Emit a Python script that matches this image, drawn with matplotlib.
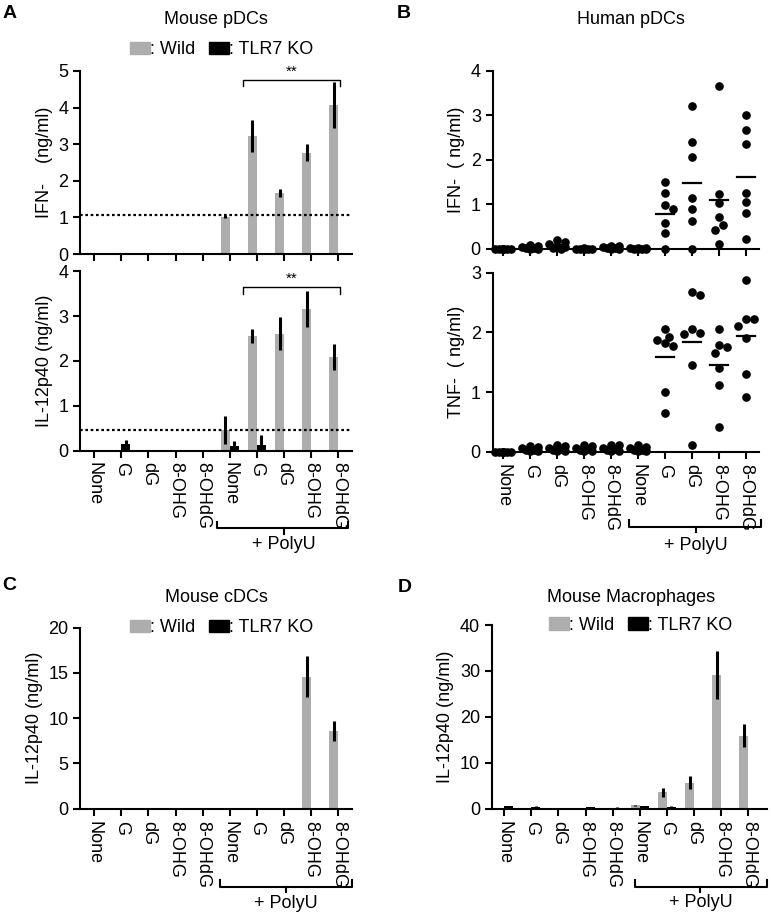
import matplotlib
matplotlib.use("Agg")
from matplotlib import pyplot as plt
from matplotlib.patches import Patch
import numpy as np

plt.rcParams['font.family'] = ['Liberation Sans', 'DejaVu Sans']
plt.rcParams['font.size'] = 13

# ---- data ----
categories = ["None", "G", "dG", "8-OHG", "8-OHdG", "None", "G", "dG", "8-OHG", "8-OHdG"]

# A: mouse pDCs, IFN-a (ng/ml)
a_ifn_wild = [0, 0, 0, 0, 0, 1.02, 3.22, 1.67, 2.77, 4.07]
a_ifn_wild_err = [0, 0, 0, 0, 0, 0.04, 0.44, 0.1, 0.23, 0.62]
a_ifn_ko = [0, 0, 0, 0, 0, 0, 0, 0, 0, 0]
a_ifn_ko_err = [0, 0, 0, 0, 0, 0, 0, 0, 0, 0]
a_ifn_cutoff = 1.07

# A: mouse pDCs, IL-12p40 (ng/ml)
a_il12_wild = [0, 0, 0, 0, 0, 0.46, 2.55, 2.61, 3.16, 2.08]
a_il12_wild_err = [0, 0, 0, 0, 0, 0.31, 0.16, 0.37, 0.4, 0.29]
a_il12_ko = [0, 0.15, 0, 0, 0, 0.1, 0.12, 0, 0, 0]
a_il12_ko_err = [0, 0.08, 0, 0, 0, 0.12, 0.23, 0, 0, 0]
a_il12_cutoff = 0.46

# B: human pDCs, individual donors
b_ifn = [
    [0, 0, 0, 0, 0, 0, 0],
    [0.09, 0.06, 0.04, 0.02, 0.01, 0.0, 0.0],
    [0.2, 0.14, 0.1, 0.06, 0.03, 0.01, 0.0],
    [0.01, 0, 0, 0, 0, 0, 0],
    [0.06, 0.05, 0.03, 0.02, 0.01, 0.0, 0.0],
    [0.02, 0.01, 0.01, 0.0, 0.0, 0.0, 0.0],
    [1.49, 1.25, 0.99, 0.89, 0.57, 0.35, 0.0],
    [3.21, 2.41, 2.06, 1.13, 0.89, 0.62, 0.0],
    [3.66, 1.23, 1.02, 0.72, 0.53, 0.42, 0.1],
    [3.02, 2.67, 2.35, 1.26, 1.06, 0.8, 0.21],
]
b_tnf = [
    [0, 0, 0, 0, 0, 0, 0],
    [0.1, 0.09, 0.06, 0.04, 0.03, 0.02, 0.01],
    [0.11, 0.1, 0.07, 0.05, 0.03, 0.02, 0.01],
    [0.11, 0.1, 0.07, 0.05, 0.03, 0.02, 0.01],
    [0.12, 0.11, 0.07, 0.05, 0.03, 0.02, 0.01],
    [0.11, 0.09, 0.06, 0.04, 0.03, 0.02, 0.01],
    [2.05, 1.92, 1.88, 1.83, 1.78, 1.0, 0.65],
    [2.68, 2.62, 2.05, 1.99, 1.98, 1.46, 0.12],
    [2.06, 1.79, 1.75, 1.65, 1.4, 1.12, 0.42],
    [2.87, 2.22, 2.22, 2.1, 1.9, 1.31, 0.92],
]

# C: mouse cDCs, IL-12p40
c_wild = [0, 0, 0, 0, 0, 0, 0, 0, 14.6, 8.6]
c_wild_err = [0, 0, 0, 0, 0, 0, 0, 0, 2.3, 1.1]
c_ko = [0, 0, 0, 0, 0, 0, 0, 0, 0, 0]
c_ko_err = [0, 0, 0, 0, 0, 0, 0, 0, 0, 0]

# D: mouse macrophages, IL-12p40
d_wild = [0.1, 0.05, 0.1, 0.05, 0.05, 0.8, 3.6, 5.7, 29.1, 15.9]
d_wild_err = [0, 0, 0, 0, 0, 0.1, 1.0, 1.5, 5.2, 2.5]
d_ko = [0.5, 0.4, 0.15, 0.3, 0.25, 0.55, 0.4, 0.15, 0, 0]
d_ko_err = [0.15, 0.1, 0.05, 0.05, 0.05, 0.1, 0.1, 0.05, 0, 0]

GRAY = "#adadad"
x = np.arange(len(categories))

fig = plt.figure(figsize=(7.71, 9.16), dpi=100)


def style(ax, ylim, yticks, labels=True):
    for s in ["top", "right"]:
        ax.spines[s].set_visible(False)
    for s in ["left", "bottom"]:
        ax.spines[s].set_linewidth(1.5)
    ax.set_ylim(*ylim)
    ax.set_yticks(yticks)
    ax.set_xticks(x)
    ax.tick_params(width=1.5, length=5, labelsize=13)
    if labels:
        ax.set_xticklabels(categories, rotation=270, va="top", ha="center")
    else:
        ax.set_xticklabels([])


def bars(ax, wild, wild_err, ko, ko_err):
    ekw = dict(elinewidth=2.2, capsize=0, ecolor="black")
    ax.bar(x, wild, width=-0.33, align="edge", color=GRAY, yerr=wild_err, error_kw=ekw)
    ax.bar(x, ko, width=0.33, align="edge", color="black", yerr=ko_err, error_kw=ekw)


def legend(ax, bx, by):
    h = [Patch(color=GRAY), Patch(color="black")]
    ax.legend(h, [": Wild", ": TLR7 KO"], ncol=2, frameon=False, loc="center",
              bbox_to_anchor=(bx, by), handlelength=1.1, handleheight=0.7,
              handletextpad=0.0, columnspacing=0.8, fontsize=13, borderaxespad=0)


def polyu(ax, x0, x1, xc, y, ty):
    tr = ax.get_xaxis_transform()
    ax.plot([x0, x0, x1, x1], [y + 0.035, y, y, y + 0.035], color="black", lw=1.5,
            transform=tr, clip_on=False)
    ax.plot([xc, xc], [y, y - 0.03], color="black", lw=1.5, transform=tr, clip_on=False)
    ax.text(xc, ty, "+ PolyU", transform=tr, ha="center", va="center", fontsize=13)


def sig(ax, x0, x1, y, drop, ty):
    ax.plot([x0, x0, x1, x1], [y - drop, y, y, y - drop], color="black", lw=1)
    ax.text((x0 + x1) / 2, ty, "**", ha="center", va="center", fontsize=11)


def swarm(ax, groups, diam=6.5, step=4.0):
    # place dots side by side when they would overlap (in pixels)
    for i, vals in enumerate(groups):
        placed = []
        for v in sorted(vals, reverse=True):
            px, py = ax.transData.transform((i, v))
            best, bestd = None, -1
            for k in [0, 1, -1, 2, -2]:
                cx = px + k * step
                dmin = min([np.hypot(cx - qx, py - qy) for qx, qy in placed] + [1e9])
                if dmin >= diam * 1.3:
                    best = cx
                    break
                if dmin > bestd:
                    best, bestd = cx, dmin
            placed.append((best, py))
        pts = ax.transData.inverted().transform(placed)
        ax.plot(pts[:, 0], pts[:, 1], "o", color="black", ms=5.2, clip_on=False, zorder=3)
        m = np.mean(vals)
        ax.plot([i - 0.33, i + 0.33], [m, m], color="black", lw=1.6, zorder=3)


# ---- panel A ----
axA1 = fig.add_axes([0.104, 0.7227, 0.353, 0.1998])
axA1.set_xlim(-0.52, 9.52)
bars(axA1, a_ifn_wild, a_ifn_wild_err, a_ifn_ko, a_ifn_ko_err)
axA1.axhline(a_ifn_cutoff, color="black", ls=(0, (1.2, 1.2)), lw=1.6)
style(axA1, (0, 5), range(0, 6), labels=False)
axA1.set_ylabel("IFN-    (ng/ml)")
sig(axA1, 5.5, 9.05, 4.75, 0.15, 4.97)
legend(axA1, 0.52, 1.115)

axA2 = fig.add_axes([0.104, 0.508, 0.353, 0.196])
axA2.set_xlim(-0.52, 9.52)
bars(axA2, a_il12_wild, a_il12_wild_err, a_il12_ko, a_il12_ko_err)
axA2.axhline(a_il12_cutoff, color="black", ls=(0, (1.2, 1.2)), lw=1.6)
style(axA2, (0, 4), range(0, 5))
axA2.set_ylabel("IL-12p40 (ng/ml)")
sig(axA2, 5.5, 9.05, 3.65, 0.15, 3.83)
polyu(axA2, 4.54, 9.37, 7.0, -0.432, -0.525)

# ---- panel B ----
axB1 = fig.add_axes([0.639, 0.7285, 0.346, 0.194])
axB1.set_xlim(-0.4, 9.5)
style(axB1, (0, 4), range(0, 5), labels=False)
swarm(axB1, b_ifn)
axB1.set_ylabel("IFN-  ( ng/ml)")

axB2 = fig.add_axes([0.639, 0.5066, 0.346, 0.1957])
axB2.set_xlim(-0.4, 9.5)
style(axB2, (0, 3), range(0, 4))
swarm(axB2, b_tnf)
axB2.set_ylabel("TNF-  ( ng/ml)")
polyu(axB2, 4.67, 9.54, 7.14, -0.417, -0.52)

# ---- panel C ----
axC = fig.add_axes([0.104, 0.1171, 0.353, 0.1976])
axC.set_xlim(-0.52, 9.52)
bars(axC, c_wild, c_wild_err, c_ko, c_ko_err)
style(axC, (0, 20), range(0, 21, 5))
axC.set_ylabel("IL-12p40 (ng/ml)")
legend(axC, 0.52, 1.0)
polyu(axC, 4.65, 9.5, 7.07, -0.431, -0.523)

# ---- panel D ----
axD = fig.add_axes([0.638, 0.1171, 0.357, 0.2005])
axD.set_xlim(-0.45, 9.69)
bars(axD, d_wild, d_wild_err, d_ko, d_ko_err)
style(axD, (0, 40), range(0, 41, 10))
axD.set_ylabel("IL-12p40 (ng/ml)")
legend(axD, 0.54, 1.0)
polyu(axD, 4.83, 9.69, 7.23, -0.425, -0.51)

# titles and panel letters (figure coords)
W, H = 771, 916
for txt, px, py in [("Mouse pDCs", 216, 20), ("Human pDCs", 631, 20),
                    ("Mouse cDCs", 216, 597), ("Mouse Macrophages", 631, 597)]:
    fig.text(px / W, 1 - py / H, txt, ha="center", va="center", fontsize=13)
for txt, px, py in [("A", 3, 14), ("B", 397, 13), ("C", 2, 586), ("D", 398, 587)]:
    fig.text(px / W, 1 - py / H, txt, ha="left", va="center", fontsize=14, fontweight="bold")

fig.savefig("out.png", dpi=100)
